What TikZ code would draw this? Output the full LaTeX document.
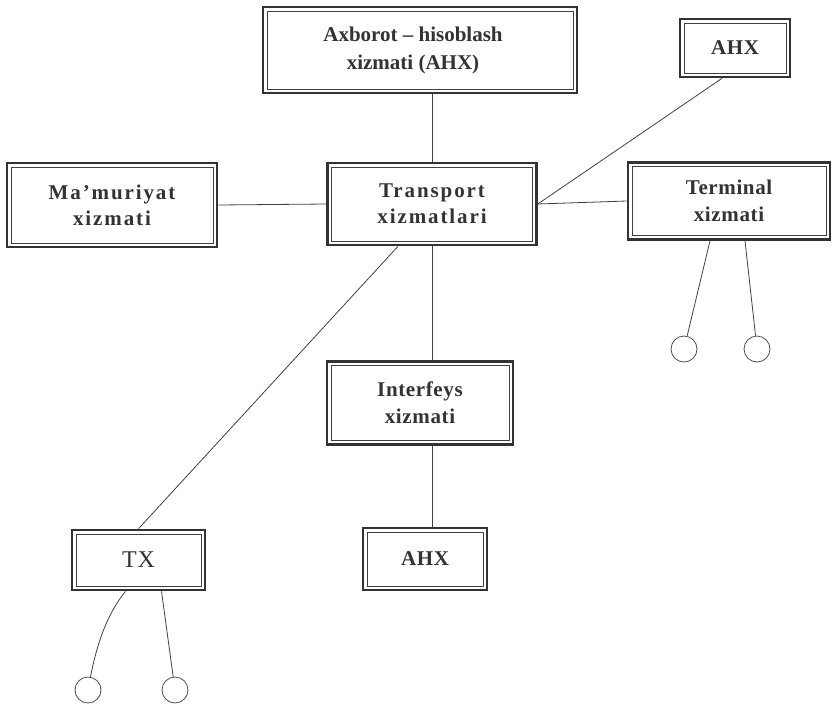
\documentclass[tikz,border=0pt]{standalone}
\usepackage{fontspec}
\setmainfont{Liberation Serif}
\newfontfamily\boxfont[LetterSpace=3]{Liberation Serif}
\newfontfamily\widefont[LetterSpace=9]{Liberation Serif}
\begin{document}
\begin{tikzpicture}[x=1pt,y=-1pt,
  box/.style={draw=black!80, line width=2.6pt, fill=white, align=center,
    font=\boxfont\bfseries\fontsize{21}{27}\selectfont, text=black!80,
    inner sep=0pt,
    path picture={\draw[line width=0.8pt, black!75]
      ([shift={(4pt,-4pt)}]path picture bounding box.north west) rectangle
      ([shift={(-4pt,4pt)}]path picture bounding box.south east);}},
  wide/.style={font=\widefont\bfseries\fontsize{21}{26}\selectfont},
  plainwide/.style={font=\bfseries\fontsize{21}{28}\selectfont},
  wire/.style={draw=black!75, line width=0.8pt},
  term/.style={circle, draw=black!70, line width=0.8pt, minimum size=26pt, inner sep=0pt}]
\useasboundingbox (0,0) rectangle (832,705);

% service boxes
\node[box, plainwide, minimum width=314pt, minimum height=86pt] (ahxtop) at (420,50) {Axborot – hisoblash\hspace*{14pt}\\xizmati (AHX)\hspace*{14pt}};
\node[box, minimum width=110pt, minimum height=58pt] (ahxr) at (735,48) {AHX};
\node[box, wide, minimum width=210pt, minimum height=84pt] (mam) at (112,205) {Ma’muriyat\\xizmati};
\node[box, wide, minimum width=209pt, minimum height=82pt] (tr) at (432,204) {Transport\\xizmatlari};
\node[box, minimum width=202pt, minimum height=77pt] (trm) at (729,201) {Terminal\\xizmati};
\node[box, minimum width=186pt, minimum height=83pt] (intf) at (420,403) {Interfeys\\xizmati};
\node[box, minimum width=124pt, minimum height=62pt] (ahxb) at (425,559) {AHX};
\node[box, minimum width=133pt, minimum height=60pt, font=\boxfont\mdseries\fontsize{24}{26}\selectfont] (tx) at (138.5,560) {TX};

% terminals
\node[term] (t1) at (684,349) {};
\node[term] (t2) at (757,349) {};
\node[term] (t3) at (88,690) {};
\node[term] (t4) at (175,690) {};

% links
\draw[wire] (ahxtop.south -| tr.north) -- (tr.north);
\draw[wire] (mam.east) -- (tr.west);
\draw[wire] (tr.east) -- (trm.west);
\draw[wire] ([xshift=-13pt]ahxr.south) -- (tr.east);
\draw[wire] (tr.south) -- (tr.south |- intf.north);
\draw[wire] (intf.south -| tr.south) -- (tr.south |- ahxb.north);
\draw[wire] ([xshift=-34pt]tr.south) -- (tx.north);
\draw[wire] ([xshift=-19pt]trm.south) -- (t1);
\draw[wire] ([xshift=16pt]trm.south) -- (t2);
\draw[wire] ([xshift=-13pt]tx.south) .. controls (106,615) and (96,648) .. (t3);
\draw[wire] ([xshift=23pt]tx.south) -- (t4);
\end{tikzpicture}
\end{document}
